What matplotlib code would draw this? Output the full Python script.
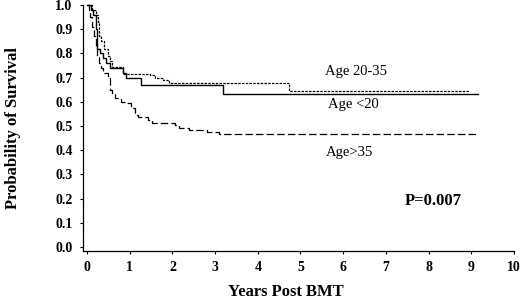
import matplotlib
matplotlib.use("Agg")
import matplotlib.pyplot as plt

# Age <20 (solid)
t_lt20 = [0.0, 0.1, 0.15, 0.2, 0.23, 0.3, 0.37, 0.44, 0.53, 0.84, 0.91, 1.26, 3.19, 9.15]
s_lt20 = [1.0, 0.98, 0.96, 0.90, 0.82, 0.80, 0.78, 0.76, 0.74, 0.72, 0.70, 0.669, 0.632, 0.632]

# Age 20-35 (short dashes)
t_2035 = [0.0, 0.12, 0.2, 0.25, 0.27, 0.32, 0.4, 0.49, 0.53, 0.58, 0.84, 1.47, 1.6, 1.77, 1.93, 4.72, 8.95]
s_2035 = [1.0, 0.98, 0.96, 0.93, 0.87, 0.85, 0.82, 0.79, 0.77, 0.745, 0.715, 0.71, 0.70, 0.69, 0.677, 0.645, 0.645]

# Age>35 (long dashes)
t_gt35 = [0.0, 0.05, 0.08, 0.12, 0.16, 0.2, 0.24, 0.27, 0.32, 0.37, 0.49, 0.53, 0.58, 0.65, 0.79, 0.91, 1.02, 1.12,
          1.19, 1.42, 1.53, 2.07, 2.16, 2.4, 2.81, 3.1, 9.15]
s_gt35 = [1.0, 0.98, 0.95, 0.91, 0.87, 0.83, 0.79, 0.76, 0.74, 0.72, 0.70, 0.65, 0.63, 0.615, 0.60, 0.595, 0.575,
          0.545, 0.537, 0.525, 0.512, 0.504, 0.49, 0.483, 0.475, 0.467, 0.467]

x_ticks = [0, 1, 2, 3, 4, 5, 6, 7, 8, 9, 10]
y_ticks = [0.0, 0.1, 0.2, 0.3, 0.4, 0.5, 0.6, 0.7, 0.8, 0.9, 1.0]

plt.rcParams['font.family'] = ['Liberation Serif', 'DejaVu Serif']

fig = plt.figure(figsize=(5.2, 3.03), dpi=100)
ax = fig.add_axes([83 / 520, 1 - 251 / 303, (514 - 83) / 520, (251 - 5) / 303])

ax.plot(t_lt20, s_lt20, drawstyle='steps-post', color='black', lw=1.0, clip_on=False)
ax.plot(t_2035, s_2035, drawstyle='steps-post', color='black', lw=0.9, linestyle=(0, (2.0, 1.0)), clip_on=False)
ax.plot(t_gt35, s_gt35, drawstyle='steps-post', color='black', lw=0.9, linestyle=(0, (6.0, 2.5)), clip_on=False)

ax.set_xlim(-0.093, 10.0)
ax.set_ylim(-0.017, 1.0)
ax.set_xticks(x_ticks)
ax.set_yticks(y_ticks)
ax.set_xticklabels([str(v) for v in x_ticks], fontweight='bold', fontsize=10)
ax.set_yticklabels(['%.1f' % v for v in y_ticks], fontweight='bold', fontsize=10)
ax.tick_params(axis='both', length=2.5, width=0.8, pad=5, colors='black')
for sp in ['top', 'right']:
    ax.spines[sp].set_visible(False)
for sp in ['left', 'bottom']:
    ax.spines[sp].set_linewidth(0.9)

ax.set_xlabel('Years Post BMT', fontweight='bold', fontsize=12)
ax.xaxis.set_label_coords(0.47, -0.135)
ax.set_ylabel('Probability of Survival', fontweight='bold', fontsize=12)
ax.yaxis.set_label_coords(-0.143, 0.5)

ax.text(6.3, 0.725, 'Age 20-35', fontsize=10.5, ha='center', va='center')
ax.text(6.23, 0.587, 'Age <20', fontsize=10.5, ha='center', va='center')
ax.text(6.16, 0.39, 'Age>35', fontsize=10.5, ha='center', va='center')
ax.text(8.1, 0.19, 'P=0.007', fontsize=12, fontweight='bold', ha='center', va='center')

fig.savefig('out.png', dpi=100)
